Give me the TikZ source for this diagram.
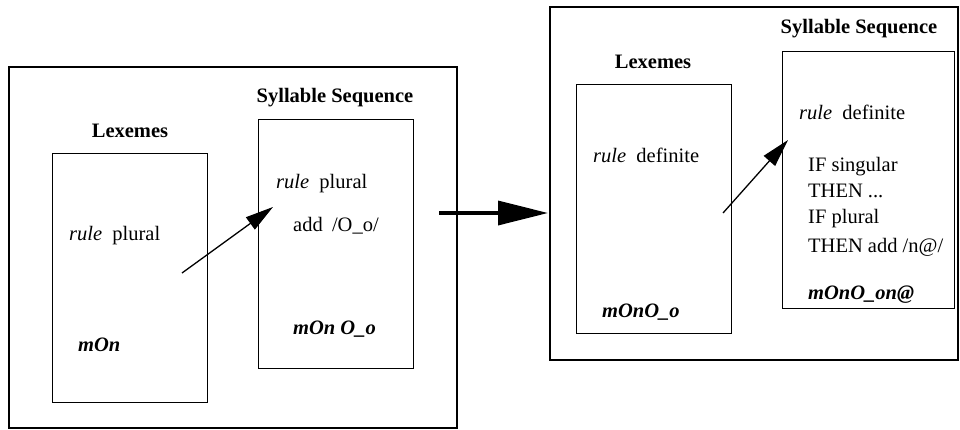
\documentclass[tikz,border=0pt]{standalone}
\usepackage{fontspec}
\setmainfont{Liberation Serif}
\usetikzlibrary{arrows.meta}
\begin{document}
\begin{tikzpicture}[x=1pt,y=-1pt,
  outerbox/.style={draw,line width=1.6pt},
  innerbox/.style={draw,line width=0.9pt},
  txt/.style={anchor=base west,inner sep=0pt,font=\fontsize{20.5}{24}\selectfont},
  title/.style={anchor=base,inner sep=0pt,font=\fontsize{20.5}{24}\selectfont\bfseries},
  link/.style={line width=1.3pt,-{Triangle[length=28pt,width=15pt]}},
  bigarrow/.style={line width=3.5pt,-{Triangle[length=50pt,width=24pt]}}]
\useasboundingbox (0,0) rectangle (960,429);

% first stage
\draw[outerbox] (9,67) rectangle (457,428);
\node[innerbox,minimum width=155pt,minimum height=249pt,anchor=north west,inner sep=0pt] (lexA) at (52,153) {};
\node[innerbox,minimum width=155pt,minimum height=249pt,anchor=north west,inner sep=0pt] (sylA) at (258,119) {};
\node[title] (lexAt) at (130,137) {Lexemes};
\node[title] (sylAt) at (335,102) {Syllable Sequence};
\node[txt] (ruleA1) at (69,240) {\textit{rule}\hspace{0.5em}plural};
\node[txt] (wordA1) at (78,351) {\textbf{\textit{mOn}}};
\node[txt] (ruleA2) at (276,188) {\textit{rule}\hspace{0.5em}plural};
\node[txt] (addA2) at (293,231) {add\hspace{0.45em}/O\_o/};
\node[txt] (wordA2) at (293,334) {\textbf{\textit{mOn O\_o}}};
\coordinate (fromA) at (182,273);
\coordinate (toA) at (273,207);
\draw[link] (fromA) -- (toA);

% second stage
\draw[outerbox] (550,7) rectangle (958,360);
\node[innerbox,minimum width=155pt,minimum height=249pt,anchor=north west,inner sep=0pt] (lexB) at (576,84) {};
\node[innerbox,minimum width=172pt,minimum height=257pt,anchor=north west,inner sep=0pt] (sylB) at (782,51) {};
\node[title] (lexBt) at (653,68) {Lexemes};
\node[title] (sylBt) at (859,33) {Syllable Sequence};
\node[txt] (ruleB1) at (593,162) {\textit{rule}\hspace{0.5em}definite};
\node[txt] (wordB1) at (602,317) {\textbf{\textit{mOnO\_o}}};
\node[txt] (ruleB2) at (799,119) {\textit{rule}\hspace{0.5em}definite};
\node[txt] (ifB1) at (808,171) {IF singular};
\node[txt] (thB1) at (808,197) {THEN ...};
\node[txt] (ifB2) at (808,223) {IF plural};
\node[txt] (thB2) at (808,252) {THEN add /n@/};
\node[txt] (wordB2) at (808,299) {\textbf{\textit{mOnO\_on@}}};
\coordinate (fromB) at (723,213);
\coordinate (toB) at (788,140);
\draw[link] (fromB) -- (toB);

% transition between stages
\coordinate (stepL) at (439,213);
\coordinate (stepR) at (548,213);
\draw[bigarrow] (stepL) -- (stepR);
\end{tikzpicture}
\end{document}
